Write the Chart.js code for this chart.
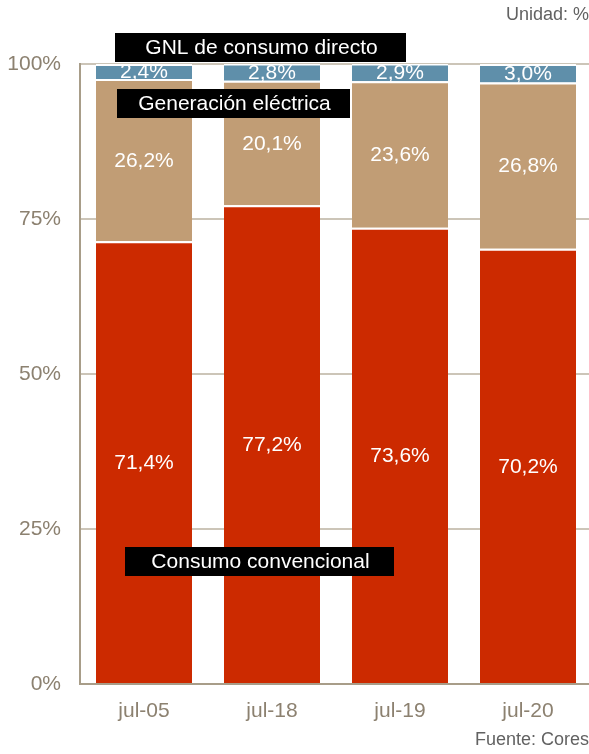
<!DOCTYPE html>
<html>
<head>
<meta charset="utf-8">
<script src="https://cdn.jsdelivr.net/npm/chart.js@4/dist/chart.umd.min.js"></script>
<style>
  html, body { margin: 0; padding: 0; background: #fff; overflow: hidden; }
  #wrap { width: 592px; height: 754px; }
</style>
</head>
<body>
<div id="wrap"><canvas id="gnl-chart"></canvas></div>
<script>
// Chart data
const categories = ["jul-05", "jul-18", "jul-19", "jul-20"];
const consumoConvencional = [71.4, 77.2, 73.6, 70.2];
const generacionElectrica = [26.2, 20.1, 23.6, 26.8];
const gnlConsumoDirecto = [2.4, 2.8, 2.9, 3.0];
const yTicks = [0, 25, 50, 75, 100];

const FONT = "'Liberation Sans', Arial, sans-serif";

// value labels inside each segment, comma as decimal separator
const segmentLabels = {
    id: 'segmentLabels',
    afterDatasetsDraw(chart) {
        const ctx = chart.ctx;
        ctx.save();
        ctx.font = "21px " + FONT;
        ctx.fillStyle = '#fff';
        ctx.textAlign = 'center';
        ctx.textBaseline = 'middle';
        chart.data.datasets.forEach((ds, i) => {
            const meta = chart.getDatasetMeta(i);
            meta.data.forEach((bar, j) => {
                const p = bar.getCenterPoint();
                const txt = ds.data[j].toFixed(1).replace('.', ',') + '%';
                ctx.fillText(txt, p.x, p.y + 1);
            });
        });
        ctx.restore();
    }
};

// black legend boxes + unit / source notes
const notes = {
    id: 'notes',
    afterDraw(chart) {
        const ctx = chart.ctx;
        const boxes = [
            { text: "GNL de consumo directo", x: 115, y: 33, w: 291, h: 29 },
            { text: "Generación eléctrica", x: 117, y: 89, w: 233, h: 29 },
            { text: "Consumo convencional", x: 125, y: 547, w: 269, h: 29 }
        ];
        ctx.save();
        ctx.font = "21px " + FONT;
        ctx.textBaseline = 'middle';
        boxes.forEach(b => {
            ctx.fillStyle = '#000';
            ctx.fillRect(b.x, b.y, b.w, b.h);
            ctx.fillStyle = '#fff';
            ctx.textAlign = 'center';
            ctx.fillText(b.text, b.x + b.w / 2 + 1, b.y + b.h / 2 + 1);
        });
        ctx.font = "18px " + FONT;
        ctx.fillStyle = '#626262';
        ctx.textAlign = 'right';
        ctx.fillText("Unidad: %", 589, 15);
        ctx.fillText("Fuente: Cores", 589, 740);
        ctx.restore();
    }
};

function makeDataset(label, data, color) {
    return {
        label: label,
        data: data,
        backgroundColor: color,
        borderColor: '#fff',
        borderWidth: { top: 2, bottom: 0, left: 0, right: 0 },
        borderSkipped: false,
        barPercentage: 0.75,
        categoryPercentage: 1.0
    };
}

new Chart(document.getElementById('gnl-chart').getContext('2d'), {
    type: 'bar',
    data: {
        labels: categories,
        datasets: [
            makeDataset("Consumo convencional", consumoConvencional, '#CC2A00'),
            makeDataset("Generación eléctrica", generacionElectrica, '#C19D75'),
            makeDataset("GNL de consumo directo", gnlConsumoDirecto, '#5F8FAA')
        ]
    },
    options: {
        responsive: true,
        maintainAspectRatio: false,
        animation: false,
        layout: { padding: { top: 64, left: 0, right: 0, bottom: 0 } },
        scales: {
            x: {
                stacked: true,
                grid: { display: false, drawTicks: false },
                border: { display: true, color: '#A89D89', width: 2 },
                ticks: { color: '#8C8170', font: { family: FONT, size: 21 }, padding: 15 },
                afterFit(scale) { scale.height = 70; }
            },
            y: {
                stacked: true,
                min: 0,
                max: 100,
                afterBuildTicks(scale) { scale.ticks = yTicks.map(v => ({ value: v })); },
                grid: { color: '#CCC5B8', lineWidth: 2, drawTicks: false },
                border: { display: true, color: '#A89D89', width: 2 },
                ticks: {
                    color: '#8C8170',
                    font: { family: FONT, size: 21 },
                    padding: 19,
                    callback: v => v + '%'
                },
                afterFit(scale) { scale.width = 80; }
            }
        },
        plugins: {
            legend: { display: false },
            tooltip: { enabled: false }
        }
    },
    plugins: [segmentLabels, notes]
});
</script>
</body>
</html>
